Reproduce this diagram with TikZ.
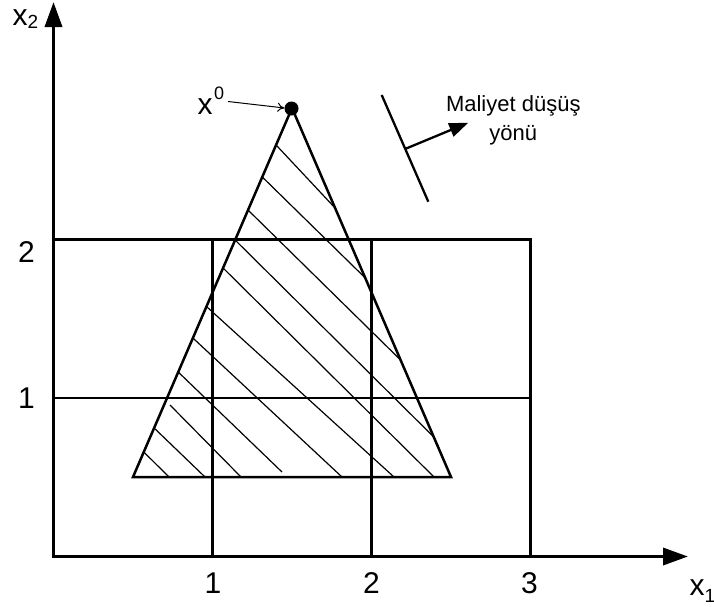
\documentclass[tikz,border=0pt]{standalone}
\usepackage{fontspec}
\setmainfont{Liberation Sans}
\usetikzlibrary{arrows.meta}
\begin{document}
\begin{tikzpicture}[x=1pt,y=-1pt,
  axisline/.style={line width=3.5pt, line join=miter,
    {Triangle[length=25pt,width=17pt]}-{Triangle[length=25pt,width=17pt]}},
  gridline/.style={line width=2.2pt},
  triline/.style={line width=2.5pt, line join=miter},
  hatchline/.style={line width=1.2pt},
  biglab/.style={font=\fontsize{30}{36}\selectfont, inner sep=0pt},
  smalllab/.style={font=\fontsize{22}{28}\selectfont, inner sep=0pt}]
\useasboundingbox (0,0) rectangle (714,606);
% axes
\coordinate (ytip) at (53.5,2);
\coordinate (orig) at (53.5,556.5);
\coordinate (xtip) at (688,556.5);
\draw[axisline] (ytip) -- (orig) -- (xtip);
% grid
\draw[gridline] (53.5,239.5) -- (530.5,239.5) -- (530.5,556.5);
\draw[gridline] (53.5,398) -- (530.5,398);
\draw[gridline] (212.5,239.5) -- (212.5,556.5);
\draw[gridline] (371.5,239.5) -- (371.5,556.5);
% hatching
\draw[hatchline] (276.1,145) -- (335.1,208);
\draw[hatchline] (262.3,177) -- (365.3,278);
\draw[hatchline] (248.0,210) -- (400.6,360);
\draw[hatchline] (235.1,240) -- (433.8,437);
\draw[hatchline] (223.1,268) -- (434,477);
\draw[hatchline] (207,307) -- (394,477);
\draw[hatchline] (192.9,338) -- (342,477);
\draw[hatchline] (178.2,372) -- (282,472);
\draw[hatchline] (170,405) -- (241,477);
\draw[hatchline] (154.1,428) -- (205,477);
\draw[hatchline] (143.8,452) -- (169,477);
% triangle
\coordinate (apex) at (292,108);
\coordinate (bl) at (133,477);
\coordinate (br) at (451,477);
\draw[triline] (apex) -- (br) -- (bl) -- cycle;
\fill (291.5,108.5) circle (7pt);
% x^0 label and arrow
\node[biglab, anchor=base west] (x0lab) at (197.5,114) {x\kern1.5pt\raisebox{15pt}{\fontsize{18}{20}\selectfont 0}};
\coordinate (x0s) at (228,101.5);
\coordinate (x0e) at (284.5,108);
\draw[line width=1pt, -{To[length=7pt,width=9pt]}] (x0s) -- (x0e);
% cost direction
\coordinate (c1) at (381.7,95);
\coordinate (c2) at (428.3,201.7);
\draw[line width=2.3pt] (c1) -- (c2);
\coordinate (c3) at (405,149);
\coordinate (c4) at (468.3,122.7);
\draw[line width=2.3pt, -{Triangle[length=19pt,width=14pt]}] (c3) -- (c4);
\node[smalllab, anchor=base] (m1) at (513.3,111.7) {Maliyet düşüş};
\node[smalllab, anchor=base] (m2) at (513.3,140) {yönü};
% tick labels
\node[biglab, anchor=base] (t1) at (213,593) {1};
\node[biglab, anchor=base] (t2) at (371.5,593) {2};
\node[biglab, anchor=base] (t3) at (529.5,593) {3};
\node[biglab, anchor=base] (l2) at (26.5,262.7) {2};
\node[biglab, anchor=base] (l1) at (26.5,408.3) {1};
% axis labels
\node[biglab, anchor=base west] (x1lab) at (689.5,595) {x\raisebox{-7pt}{\fontsize{19}{20}\selectfont 1}};
\node[biglab, anchor=base west] (x2lab) at (12.5,25) {x\raisebox{-3.3pt}{\fontsize{19}{20}\selectfont 2}};
\end{tikzpicture}
\end{document}
